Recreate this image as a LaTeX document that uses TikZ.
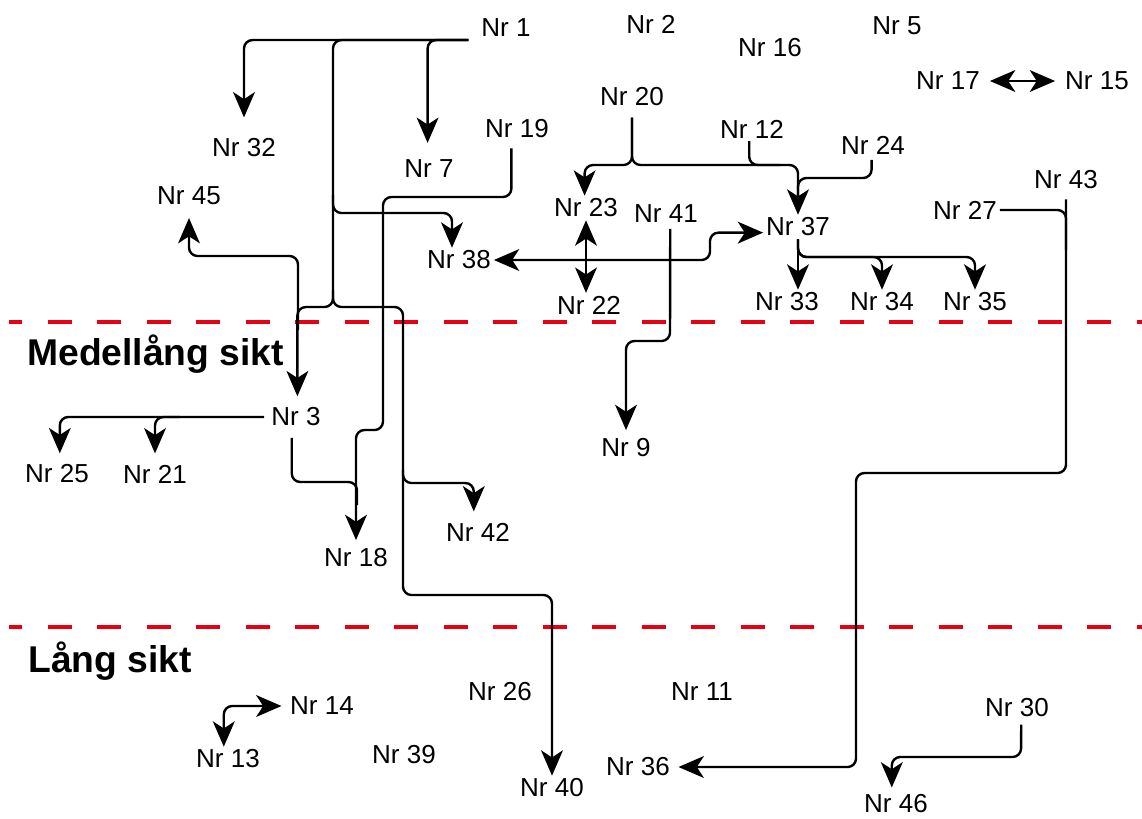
\documentclass[tikz,border=0pt]{standalone}
\usepackage{fontspec}
\setmainfont{Liberation Sans}
\usepackage{tikz}
\usetikzlibrary{arrows.meta,positioning,calc}
\definecolor{LineBlack}{HTML}{000000}
\definecolor{HorizonRed}{HTML}{E60012}
\tikzset{
    % Plain text items
    item/.style={
        inner sep=2pt,
        text=LineBlack,
        font=\fontsize{18.5}{22}\selectfont
    },
    horizon/.style={
        anchor=west,
        inner sep=0pt,
        text=LineBlack,
        font=\bfseries\fontsize{26.5}{30}\selectfont
    },
    link/.style={
        line width=1.7pt,
        rounded corners=6pt,
        color=LineBlack
    },
    arrow/.style={
        link,
        -{Stealth[length=18pt,width=15.5pt,inset=5pt]}
    },
    arrow both/.style={
        link,
        {Stealth[length=18pt,width=15.5pt,inset=5pt]}-{Stealth[length=18pt,width=15.5pt,inset=5pt]}
    },
    divider/.style={
        line width=3.5pt,
        color=HorizonRed,
        dash pattern=on 17.1pt off 18.1pt,
        dash phase=7.8pt
    }
}

\begin{document}
\begin{tikzpicture}[x=0.025cm, y=-0.025cm]
        \useasboundingbox (0,0) rectangle (1142,818);

        % Time horizons
        \draw[divider] (9,322) -- (1142,322);
        \draw[divider] (9,627) -- (1142,627);
        \node[horizon] (medel) at (27,354) {Medellång sikt};
        \node[horizon] (lang) at (28,661) {Lång sikt};

        % Short term
        \node[item] (n1) at (506,28) {Nr 1};
        \node[item] (n2) at (651,24) {Nr 2};
        \node[item] (n5) at (897,26) {Nr 5};
        \node[item] (n16) at (770,48) {Nr 16};
        \node[item] (n17) at (948,81) {Nr 17};
        \node[item] (n15) at (1097,81) {Nr 15};
        \node[item] (n20) at (632,97) {Nr 20};
        \node[item] (n12) at (752,129) {Nr 12};
        \node[item] (n24) at (873,145) {Nr 24};
        \node[item] (n19) at (517,129) {Nr 19};
        \node[item] (n32) at (244,148) {Nr 32};
        \node[item] (n7) at (429,169) {Nr 7};
        \node[item] (n45) at (189,196) {Nr 45};
        \node[item] (n43) at (1066,180) {Nr 43};
        \node[item] (n27) at (965,210) {Nr 27};
        \node[item] (n23) at (586,208) {Nr 23};
        \node[item] (n41) at (666,214) {Nr 41};
        \node[item] (n37) at (798,227) {Nr 37};
        \node[item] (n38) at (459,260) {Nr 38};
        \node[item] (n22) at (589,305) {Nr 22};
        \node[item] (n33) at (787,302) {Nr 33};
        \node[item] (n34) at (882,302) {Nr 34};
        \node[item] (n35) at (975,302) {Nr 35};

        % Medium term
        \node[item] (n3) at (296,417) {Nr 3};
        \node[item] (n25) at (57,474) {Nr 25};
        \node[item] (n21) at (155,474) {Nr 21};
        \node[item] (n9) at (626,448) {Nr 9};
        \node[item] (n18) at (356,558) {Nr 18};
        \node[item] (n42) at (478,532) {Nr 42};

        % Long term
        \node[item] (n26) at (500,692) {Nr 26};
        \node[item] (n11) at (702,692) {Nr 11};
        \node[item] (n14) at (322,706) {Nr 14};
        \node[item] (n30) at (1017,708) {Nr 30};
        \node[item] (n13) at (228,759) {Nr 13};
        \node[item] (n39) at (404,755) {Nr 39};
        \node[item] (n36) at (638,767) {Nr 36};
        \node[item] (n40) at (552,788) {Nr 40};
        \node[item] (n46) at (896,804) {Nr 46};

        % Arrows from Nr 1
        \draw[arrow] ([xshift=-7pt]n1.south west) -| ([yshift=13pt]n32.north);
        \draw[arrow] ([xshift=-7pt]n1.south west) -| ([yshift=10pt,xshift=-1pt]n7.north);
        \draw[arrow] ([xshift=-7pt]n1.south west) -| (333,307) -| ([yshift=6pt,xshift=1pt]n3.north);
        \draw[arrow] (333,290) -- (333,307) -- (403,307) -- (403,595) -| (n40.north);
        \draw[arrow] (333,195) -- (333,213) -| ([xshift=-5pt]n38.north);
        \draw[arrow] (298,330) -- (298,256) -| ([yshift=-7pt]n45.south);
        \draw[arrow] (403,470) -- (403,483) -| ([yshift=6pt,xshift=-3pt]n42.north);

        % Arrows from Nr 3 and Nr 19
        \draw[arrow] ([xshift=-3pt]n3.west) -| ([yshift=6pt,xshift=2pt]n25.north);
        \draw[arrow] (180,417) -| ([yshift=6pt]n21.north);
        \draw[arrow] ([xshift=-4pt,yshift=-5pt]n19.south) |- (383,197) -- (383,430) -| ([yshift=4pt]n18.north);
        \draw[link] ([xshift=-3pt,yshift=-6pt]n3.south) |- (357,482) -- (357,505);

        % Arrows towards Nr 37
        \draw[arrow] ([yshift=-6pt]n20.south) -- (632,165) -| ([xshift=-1pt]n23.north);
        \draw[arrow] ([yshift=-6pt]n20.south) -- (632,165) -| (n37.north);
        \draw[link] ([xshift=-2pt]n12.south) |- (780,165);
        \draw[link] ([xshift=-1pt,yshift=-2pt]n24.south) |- (798,178) -- (798,196);
        \draw[arrow both] (n23.south) -- (n23.south |- n22.north);
        \draw[arrow both] (n38.east) -- (710,260) |- ([yshift=-4pt]n37.west);

        % Arrows from Nr 37 and Nr 41
        \draw[arrow] (n37.south) -- (n37.south |- n33.north);
        \draw[arrow] (n37.south) |- (860,257) -| (n34.north);
        \draw[arrow] (n37.south) |- (900,257) -| (n35.north);
        \draw[arrow] ([xshift=3pt,yshift=-2pt]n41.south) -- (670,341) -| ([yshift=4pt]n9.north);

        % Arrows from Nr 27 and Nr 43
        \draw[link] (n27.east) -| (n43.south |- 0,250);
        \draw[arrow] ([yshift=-5pt]n43.south) -- (n43.south |- 0,473) -| (856,600) |- ([xshift=4pt]n36.east);

        % Long term arrows
        \draw[arrow] ([xshift=3pt,yshift=-3pt]n30.south) -- (1021,757) -| ([yshift=3pt,xshift=-3pt]n46.north);
        \draw[arrow both] ([xshift=-4pt]n14.west) -| ([xshift=-3pt]n13.north);
        \draw[arrow both] ([xshift=5pt]n17.east) -- ([xshift=-5pt]n15.west);
    \end{tikzpicture}
\end{document}
